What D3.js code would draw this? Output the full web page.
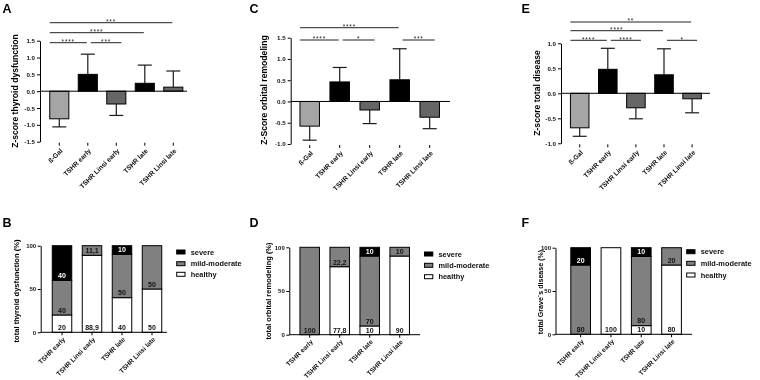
<!DOCTYPE html>
<html><head><meta charset="utf-8">
<script src="https://cdn.jsdelivr.net/npm/d3@7/dist/d3.min.js"></script>
<style>body{margin:0;background:#fff}svg{display:block;font-family:"Liberation Sans",Arial,sans-serif;will-change:transform}</style>
</head><body><svg id="c" width="760" height="380"></svg>
<script>
// ---------- data ----------
const groups = ["ß-Gal", "TSHR early", "TSHR Linsi early", "TSHR late", "TSHR Linsi late"];
const thyroidMean = [-0.82, 0.50, -0.38, 0.235, 0.12];
const thyroidSD   = [0.24, 0.60, 0.34, 0.54, 0.48];
const orbitalMean = [-0.58, 0.46, -0.20, 0.51, -0.37];
const orbitalSD   = [0.33, 0.34, 0.32, 0.73, 0.27];
const totalMean   = [-0.69, 0.48, -0.29, 0.37, -0.11];
const totalSD     = [0.17, 0.42, 0.22, 0.52, 0.28];
// comparisons: [group i, group j, stars, row]
const thyroidSig = [[0, 1, "****", 0], [1, 2, "***", 0], [0, 3, "****", 1], [0, 4, "***", 2]];
const orbitalSig = [[0, 1, "****", 0], [1, 2, "*", 0], [3, 4, "***", 0], [0, 3, "****", 1]];
const totalSig   = [[0, 1, "****", 0], [1, 2, "****", 0], [3, 4, "*", 0], [0, 3, "****", 1], [0, 4, "**", 2]];
const ticksThyroidZ = [-1.5, -1.0, -0.5, 0.0, 0.5, 1.0, 1.5];
const ticksOrbitalZ = [-1.0, -0.5, 0.0, 0.5, 1.0, 1.5];
const ticksTotalZ   = [-1.0, -0.5, 0.0, 0.5, 1.0];

const stackGroups = ["TSHR early", "TSHR Linsi early", "TSHR late", "TSHR Linsi late"];
const severities = ["healthy", "mild-moderate", "severe"];
const legendOrder = ["severe", "mild-moderate", "healthy"];
const thyroidHealthy = [20, 88.9, 40, 50];
const thyroidMild    = [40, 11.1, 50, 50];
const thyroidSevere  = [40, 0, 10, 0];
const thyroidLabels  = [["20", "88,9", "40", "50"], ["40", "11,1", "50", "50"], ["40", "", "10", ""]];
const orbitalHealthy = [0, 77.8, 10, 90];
const orbitalMild    = [100, 22.2, 80, 10];
const orbitalSevere  = [0, 0, 10, 0];
const orbitalLabels  = [["", "77,8", "10", "90"], ["100", "22,2", "70", "10"], ["", "", "10", ""]];
const gravesHealthy  = [0, 100, 10, 80];
const gravesMild     = [80, 0, 80, 20];
const gravesSevere   = [20, 0, 10, 0];
const gravesLabels   = [["", "100", "10", "80"], ["80", "", "80", "20"], ["20", "", "10", ""]];
const pctTicks = [0, 50, 100];

// ---------- styles ----------
const groupFill = ["#a5a5a5", "#000000", "#666666", "#000000", "#666666"];
const sevFill = {"healthy": "#ffffff", "mild-moderate": "#808080", "severe": "#000000"};
const FONT = '"Liberation Sans", Arial, sans-serif';
const svg = d3.select("#c");

function styleAxis(sel, fs) {
  sel.selectAll("path.domain").attr("stroke", "#000").attr("stroke-width", 1);
  sel.selectAll(".tick line").attr("stroke", "#000");
  sel.selectAll(".tick text").attr("font-size", fs).attr("font-weight", "bold")
     .attr("font-family", FONT).attr("fill", "#111");
  sel.attr("font-family", FONT);
}

function letter(t, x, y) {
  svg.append("text").attr("x", x).attr("y", y).text(t)
    .attr("font-size", 12.5).attr("font-weight", "bold").attr("font-family", FONT);
}

function zPanel(c, means, sds, sigs, ticks, title) {
  const g = svg.append("g");
  const x = d3.scaleBand().domain(groups).range([c.r0, c.r1]).paddingInner(c.pad).paddingOuter(c.pad / 2);
  const y = d3.scaleLinear().domain([ticks[0], ticks[ticks.length - 1]]).range([c.yb, c.yt]);
  const ax = g.append("g").attr("transform", `translate(${c.ax},0)`)
    .call(d3.axisLeft(y).tickValues(ticks).tickSize(3).tickSizeOuter(0).tickPadding(2).tickFormat(d => d.toFixed(1)));
  styleAxis(ax, 6.2);
  // bars
  g.selectAll("rect.bar").data(means).join("rect")
    .attr("x", (d, i) => x(groups[i])).attr("width", x.bandwidth())
    .attr("y", d => Math.min(y(d), y(0))).attr("height", d => Math.abs(y(d) - y(0)))
    .attr("fill", (d, i) => groupFill[i]).attr("stroke", "#000").attr("stroke-width", 1);
  // error bars (one-sided)
  means.forEach((m, i) => {
    const cx = x(groups[i]) + x.bandwidth() / 2;
    const e = m + Math.sign(m) * sds[i];
    const col = "#1a1a1a";
    g.append("line").attr("x1", cx).attr("x2", cx).attr("y1", y(m)).attr("y2", y(e)).attr("stroke", col).attr("stroke-width", 1.2);
    g.append("line").attr("x1", cx - 7).attr("x2", cx + 7).attr("y1", y(e)).attr("y2", y(e)).attr("stroke", col).attr("stroke-width", 1.2);
  });
  // zero line
  g.append("line").attr("x1", c.ax).attr("x2", c.zeroEnd).attr("y1", y(0)).attr("y2", y(0)).attr("stroke", "#000").attr("stroke-width", 1);
  // category ticks + labels at bottom
  groups.forEach((gname, i) => {
    const cx = x(gname) + x.bandwidth() / 2;
    g.append("line").attr("x1", cx).attr("x2", cx).attr("y1", c.yb + 1).attr("y2", c.yb + 4).attr("stroke", "#000");
    g.append("text").attr("transform", `translate(${cx + 2},${c.yb + 8}) rotate(-45)`)
      .attr("text-anchor", "end").attr("dy", "0.35em").text(gname)
      .attr("font-size", 6.7).attr("font-weight", "bold").attr("font-family", FONT).attr("fill", "#111");
  });
  // significance
  sigs.forEach(([i, j, s, row]) => {
    const ci = x(groups[i]) + x.bandwidth() / 2, cj = x(groups[j]) + x.bandwidth() / 2;
    const x1 = i === 0 ? x(groups[0]) : ci + 3;
    const x2 = i === 0 ? cj - 1 : cj + 5;
    const yy = c.rows[row];
    g.append("line").attr("x1", x1).attr("x2", x2).attr("y1", yy).attr("y2", yy).attr("stroke", "#222").attr("stroke-width", 1);
    g.append("text").attr("x", (x1 + x2) / 2).attr("y", yy + 1.2).attr("text-anchor", "middle").text(s)
      .attr("font-size", 6.5).attr("letter-spacing", 0.8).attr("font-family", FONT).attr("fill", "#222");
  });
  g.append("text").attr("transform", `translate(${c.tx},${c.ty}) rotate(-90)`).attr("text-anchor", "middle")
    .attr("dy", "0.35em").text(title).attr("font-size", 8.6).attr("font-weight", "bold").attr("font-family", FONT);
}

function stackPanel(c, healthy, mild, severe, labels, title) {
  const g = svg.append("g");
  const x = d3.scaleBand().domain(stackGroups).range([c.r0, c.r1]).paddingInner(c.pad).paddingOuter(c.pad / 2);
  const y = d3.scaleLinear().domain([0, 100]).range([c.yb, c.yt]);
  const rows = stackGroups.map((s, i) => ({group: s, "healthy": healthy[i], "mild-moderate": mild[i], "severe": severe[i]}));
  const series = d3.stack().keys(severities)(rows);
  series.forEach((ser, k) => {
    ser.forEach((d, i) => {
      if (d[1] - d[0] <= 0) return;
      g.append("rect").attr("x", x(stackGroups[i])).attr("width", x.bandwidth())
        .attr("y", y(d[1])).attr("height", y(d[0]) - y(d[1]))
        .attr("fill", sevFill[ser.key]).attr("stroke", "#000").attr("stroke-width", 1);
    });
  });
  series.forEach((ser, k) => {
    ser.forEach((d, i) => {
      const lab = labels[k][i];
      if (!lab) return;
      g.append("text").attr("x", x(stackGroups[i]) + x.bandwidth() / 2).attr("y", y(d[0]) - 2.2)
        .attr("text-anchor", "middle").text(lab).attr("font-size", 7).attr("font-weight", "bold")
        .attr("font-family", FONT).attr("fill", ser.key === "severe" ? "#fff" : "#111");
    });
  });
  const ay = g.append("g").attr("transform", `translate(${c.ax},0)`)
    .call(d3.axisLeft(y).tickValues(pctTicks).tickSize(3).tickSizeOuter(0).tickPadding(1.5).tickFormat(d3.format("d")));
  styleAxis(ay, 6);
  g.append("line").attr("x1", c.ax).attr("x2", c.xEnd).attr("y1", c.yb).attr("y2", c.yb).attr("stroke", "#000");
  stackGroups.forEach(s => {
    const cx = x(s) + x.bandwidth() / 2;
    g.append("line").attr("x1", cx).attr("x2", cx).attr("y1", c.yb).attr("y2", c.yb + 3).attr("stroke", "#000");
    g.append("text").attr("transform", `translate(${cx + 2},${c.yb + 6}) rotate(-45)`)
      .attr("text-anchor", "end").attr("dy", "0.35em").text(s)
      .attr("font-size", 6.5).attr("font-weight", "bold").attr("font-family", FONT).attr("fill", "#111");
  });
  legendOrder.forEach((k, i) => {
    const yy = c.legY[i];
    g.append("rect").attr("x", c.legX).attr("y", yy - 2).attr("width", 8.3).attr("height", 4)
      .attr("fill", sevFill[k]).attr("stroke", "#000").attr("stroke-width", 1);
    g.append("text").attr("x", c.legX + 14).attr("y", yy).attr("dy", "0.35em").text(k)
      .attr("font-size", 7.4).attr("font-weight", "bold").attr("font-family", FONT).attr("fill", "#111");
  });
  g.append("text").attr("transform", `translate(${c.tx},${c.ty}) rotate(-90)`).attr("text-anchor", "middle")
    .attr("dy", "0.35em").text(title).attr("font-size", c.tfs).attr("font-weight", "bold").attr("font-family", FONT);
}

zPanel({ax: 40, r0: 45.05, r1: 187.55, pad: 0.33, yb: 141.7, yt: 40.7, zeroEnd: 187, rows: [42.7, 32.7, 22.7], tx: 15, ty: 91},
  thyroidMean, thyroidSD, thyroidSig, ticksThyroidZ, "Z-score thyroid dysfunction");
zPanel({ax: 290.7, r0: 294.7, r1: 444.7, pad: 0.35, yb: 144, yt: 37.7, zeroEnd: 450, rows: [40, 27.7], tx: 263.5, ty: 90},
  orbitalMean, orbitalSD, orbitalSig, ticksOrbitalZ, "Z-Score orbital remodeling");
zPanel({ax: 561, r0: 565.65, r1: 706.15, pad: 0.34, yb: 143.3, yt: 43.3, zeroEnd: 710, rows: [40.3, 30.7, 22], tx: 536.7, ty: 93},
  totalMean, totalSD, totalSig, ticksTotalZ, "Z-score total disease");

stackPanel({ax: 40.7, r0: 47, r1: 167, pad: 0.35, yb: 332.3, yt: 245.7, xEnd: 167, legX: 176.7, legY: [252, 263.7, 274.3], tx: 16, ty: 291, tfs: 7.6},
  thyroidHealthy, thyroidMild, thyroidSevere, thyroidLabels, "total thyroid dysfunction (%)");
stackPanel({ax: 289.3, r0: 294.7, r1: 414.7, pad: 0.35, yb: 334.7, yt: 247.3, xEnd: 420, legX: 424.5, legY: [254, 265.3, 276.7], tx: 268.3, ty: 291, tfs: 7.5},
  orbitalHealthy, orbitalMild, orbitalSevere, orbitalLabels, "total orbital remodeling (%)");
stackPanel({ax: 555.5, r0: 565.5, r1: 686.7, pad: 0.35, yb: 334.3, yt: 247.7, xEnd: 692, legX: 686.7, legY: [251.7, 263.3, 275], tx: 540.5, ty: 292, tfs: 7.1},
  gravesHealthy, gravesMild, gravesSevere, gravesLabels, "total Grave´s disease (%)");

letter("A", 2.5, 12.5);
letter("C", 249.5, 12.5);
letter("E", 521.5, 12.8);
letter("B", 2.5, 226.8);
letter("D", 249.5, 226.8);
letter("F", 521.5, 226.8);
</script></body></html>
